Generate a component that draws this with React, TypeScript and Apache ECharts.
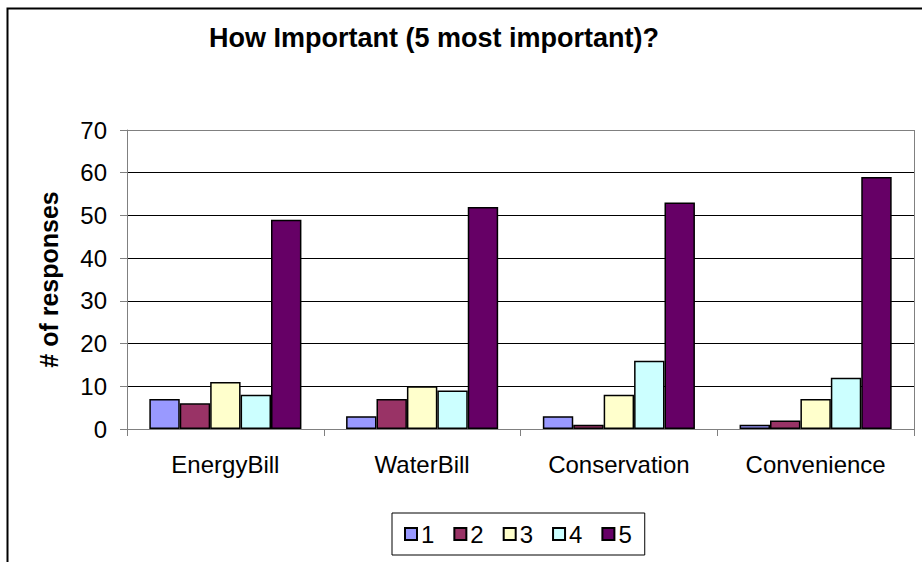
import React, { useEffect, useRef } from "react";
import * as echarts from "echarts";

const categories = ["EnergyBill", "WaterBill", "Conservation", "Convenience"];
const seriesNames = ["1", "2", "3", "4", "5"];
const values1 = [7, 3, 3, 1];
const values2 = [6, 7, 1, 2];
const values3 = [11, 10, 8, 7];
const values4 = [8, 9, 16, 12];
const values5 = [49, 52, 53, 59];
const seriesColors = ["#9999FF", "#993366", "#FFFFCC", "#CCFFFF", "#660066"];

const FONT = "'Liberation Sans', Arial, sans-serif";

export default function App() {
  const ref = useRef<HTMLDivElement>(null);

  useEffect(() => {
    if (!ref.current) return;
    const chart = echarts.init(ref.current, null, { renderer: "svg" });
    const allValues = [values1, values2, values3, values4, values5];

    chart.setOption({
      animation: false,
      backgroundColor: "#ffffff",
      textStyle: { fontFamily: FONT },
      title: {
        text: "How Important (5 most important)?",
        left: 204,
        top: 19,
        textStyle: { fontFamily: FONT, fontSize: 27, fontWeight: "bold", color: "#000" },
      },
      legend: {
        data: seriesNames,
        left: 392,
        top: 513,
        orient: "horizontal",
        icon: "rect",
        itemWidth: 12,
        itemHeight: 12,
        itemGap: 19,
        padding: [9, 13, 9, 12],
        borderColor: "#000",
        borderWidth: 1,
        textStyle: { fontFamily: FONT, fontSize: 24, color: "#000", padding: [0, 0, 0, -1] },
      },
      grid: { left: 127, right: 8, top: 130, bottom: 133, containLabel: false },
      xAxis: {
        type: "category",
        data: categories,
        axisLine: { lineStyle: { color: "#808080", width: 1 } },
        axisTick: { show: true, length: 7, lineStyle: { color: "#808080" } },
        axisLabel: { fontFamily: FONT, fontSize: 24, color: "#000", margin: 23 },
      },
      yAxis: {
        type: "value",
        min: 0,
        max: 70,
        interval: 10,
        name: "# of responses",
        nameLocation: "middle",
        nameGap: 66,
        nameTextStyle: { fontFamily: FONT, fontSize: 25, fontWeight: "bold", color: "#000" },
        axisLine: { show: true, lineStyle: { color: "#808080", width: 1 } },
        axisTick: { show: true, length: 7, lineStyle: { color: "#808080" } },
        axisLabel: { fontFamily: FONT, fontSize: 24, color: "#000", margin: 20 },
        splitLine: {
          show: true,
          lineStyle: {
            color: ["#808080", "#000", "#000", "#000", "#000", "#000", "#000", "#808080"],
            width: 1,
          },
        },
      },
      graphic: [
        {
          type: "rect",
          shape: { x: 7.5, y: 8.5, width: 930, height: 600 },
          style: { fill: "none", stroke: "#000", lineWidth: 2 },
          silent: true,
        },
        {
          type: "line",
          shape: { x1: 914.5, y1: 130, x2: 914.5, y2: 429 },
          style: { stroke: "#808080", lineWidth: 1 },
          silent: true,
        },
      ],
      series: seriesNames.map((name, i) => ({
        name,
        type: "bar",
        data: allValues[i],
        barGap: "0%",
        barCategoryGap: "22.7%",
        itemStyle: { color: seriesColors[i], borderColor: "#000", borderWidth: 1.5 },
      })),
    });

    return () => chart.dispose();
  }, []);

  return (
    <div
      ref={ref}
      style={{ position: "fixed", left: 0, top: 0, width: 922, height: 562 }}
    />
  );
}
